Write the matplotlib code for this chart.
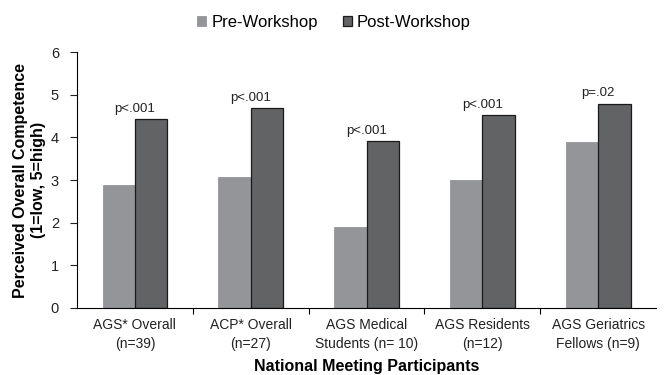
import numpy as np
import matplotlib.pyplot as plt

plt.rcParams['font.family'] = ['Liberation Sans', 'DejaVu Sans']

groups = ['AGS* Overall\n(n=39)', 'ACP* Overall\n(n=27)', 'AGS Medical\nStudents (n= 10)',
          'AGS Residents\n(n=12)', 'AGS Geriatrics\nFellows (n=9)']
pre = [2.89, 3.07, 1.90, 3.01, 3.89]
post = [4.43, 4.68, 3.91, 4.52, 4.79]
pvals = ['p<.001', 'p<.001', 'p<.001', 'p<.001', 'p=.02']

fig = plt.figure(figsize=(6.64, 3.75), dpi=100)
ax = fig.add_axes([0.116, 0.179, 0.872, 0.682])

x = np.arange(len(groups))
w = 0.28
ax.bar(x - w / 2, pre, w, color='#939598', edgecolor='#939598', linewidth=0.6, label='Pre-Workshop')
ax.bar(x + w / 2, post, w, color='#626365', edgecolor='#1a1a1a', linewidth=0.9, label='Post-Workshop')

for i in range(len(groups)):
    ax.text(x[i], post[i] + 0.1, pvals[i], ha='center', va='bottom', fontsize=9.5, color='#222222')

ax.set_xlim(-0.5, len(groups) - 0.5)
ax.set_ylim(0, 6)
ax.set_yticks(range(7))
ax.set_xticks(np.arange(0.5, len(groups) - 0.5, 1))
ax.set_xticklabels([])
ax.set_xticks(x, minor=True)
ax.set_xticklabels(groups, minor=True, fontsize=10, color='#222222', linespacing=1.5)
ax.tick_params(axis='x', which='minor', length=0, pad=7)
ax.tick_params(axis='x', which='major', length=4, direction='out', width=0.8)
ax.tick_params(axis='y', length=5, direction='out', labelsize=10.5, width=0.8, pad=8, colors='#222222')

for s in ['top', 'right']:
    ax.spines[s].set_visible(False)
ax.spines['left'].set_linewidth(0.8)
ax.spines['bottom'].set_linewidth(0.8)

ax.set_ylabel('Perceived Overall Competence\n(1=low, 5=high)', fontsize=11.5, fontweight='bold')
ax.yaxis.set_label_coords(-0.054, 0.5)
ax.set_xlabel('National Meeting Participants', fontsize=11.5, fontweight='bold', labelpad=6)

fig.legend(loc='upper center', bbox_to_anchor=(0.503, 1.0), ncol=2, frameon=False,
           fontsize=12, handlelength=0.55, handleheight=0.55, handletextpad=0.3, columnspacing=1.5)

fig.savefig('out.png', dpi=100)
